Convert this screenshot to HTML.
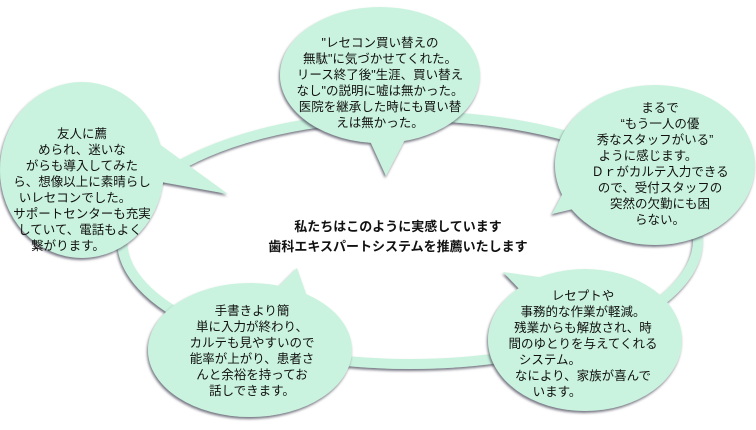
<!DOCTYPE html>
<html><head><meta charset="utf-8"><style>
html,body{margin:0;padding:0;background:#fff;width:756px;height:430px;overflow:hidden}
svg text{font-family:"Liberation Sans","Noto Sans CJK JP",sans-serif;font-size:12.5px;fill:#111}
</style></head><body>
<svg width="756" height="430" viewBox="0 0 756 430" xmlns="http://www.w3.org/2000/svg">
<defs>
<filter id="sh" x="-10%" y="-10%" width="120%" height="130%">
<feGaussianBlur in="SourceAlpha" stdDeviation="1.2"/>
<feOffset dx="-1" dy="2" result="b"/>
<feFlood flood-color="#556" flood-opacity="0.8"/>
<feComposite in2="b" operator="in"/>
<feMerge><feMergeNode/><feMergeNode in="SourceGraphic"/></feMerge>
</filter>
</defs>
<g filter="url(#sh)">
<ellipse cx="410" cy="240" rx="288" ry="124" fill="none" stroke="#c9f3de" stroke-width="10"/>
</g>
<g filter="url(#sh)" fill="#c9f3de">
<ellipse cx="380" cy="75" rx="100" ry="68"/>
<polygon points="365,130 410,130 386,176"/>
<ellipse cx="655" cy="165" rx="100" ry="80"/>
<polygon points="575,170 590,205 552,214"/>
<ellipse cx="82" cy="170" rx="82" ry="88"/>
<polygon points="140,130 150,180 228,194"/>
<ellipse cx="250" cy="350" rx="102" ry="67"/>
<polygon points="270,295 310,305 297,268"/>
<ellipse cx="585" cy="340" rx="97" ry="71"/>
<polygon points="525,295 560,280 503,272"/>
</g>
<g text-anchor="middle">
<text x="380" y="47">"レセコン買い替えの</text>
<text x="380" y="63">無駄"に気づかせてくれた。</text>
<text x="380" y="79">リース終了後"生涯、買い替え</text>
<text x="380" y="95">なし"の説明に嘘は無かった。</text>
<text x="380" y="111">医院を継承した時にも買い替</text>
<text x="380" y="127">えは無かった。</text>

<text x="660" y="112">まるで</text>
<text x="660" y="128">“もう一人の優</text>
<text x="655" y="144">秀なスタッフがいる”</text>
<text x="648" y="160">ように感じます。</text>
<text x="660" y="176">Ｄｒがカルテ入力できる</text>
<text x="660" y="192">ので、受付スタッフの</text>
<text x="660" y="208">突然の欠勤にも困</text>
<text x="660" y="224">らない。</text>

<text x="82" y="138">友人に薦</text>
<text x="82" y="154">められ、迷いな</text>
<text x="82" y="170">がらも導入してみた</text>
<text x="82" y="186">ら、想像以上に素晴らし</text>
<text x="75" y="202">いレセコンでした。</text>
<text x="82" y="218">サポートセンターも充実</text>
<text x="80" y="234">していて、電話もよく</text>
<text x="68" y="250">繋がります。</text>

<text x="252" y="315">手書きより簡</text>
<text x="252" y="331">単に入力が終わり、</text>
<text x="252" y="347">カルテも見やすいので</text>
<text x="252" y="363">能率が上がり、患者さ</text>
<text x="252" y="379">んと余裕を持ってお</text>
<text x="252" y="395">話しできます。</text>

<text x="583" y="300">レセプトや</text>
<text x="583" y="316">事務的な作業が軽減。</text>
<text x="583" y="332">残業からも解放され、時</text>
<text x="583" y="348">間のゆとりを与えてくれる</text>
<text x="550" y="364">システム。</text>
<text x="583" y="380">なにより、家族が喜んで</text>
<text x="557" y="396">います。</text>

<text x="398" y="231" style="font-weight:bold;font-size:13px">私たちはこのように実感しています</text>
<text x="398" y="251" style="font-weight:bold;font-size:13px">歯科エキスパートシステムを推薦いたします</text>
</g>
</svg>
</body></html>
